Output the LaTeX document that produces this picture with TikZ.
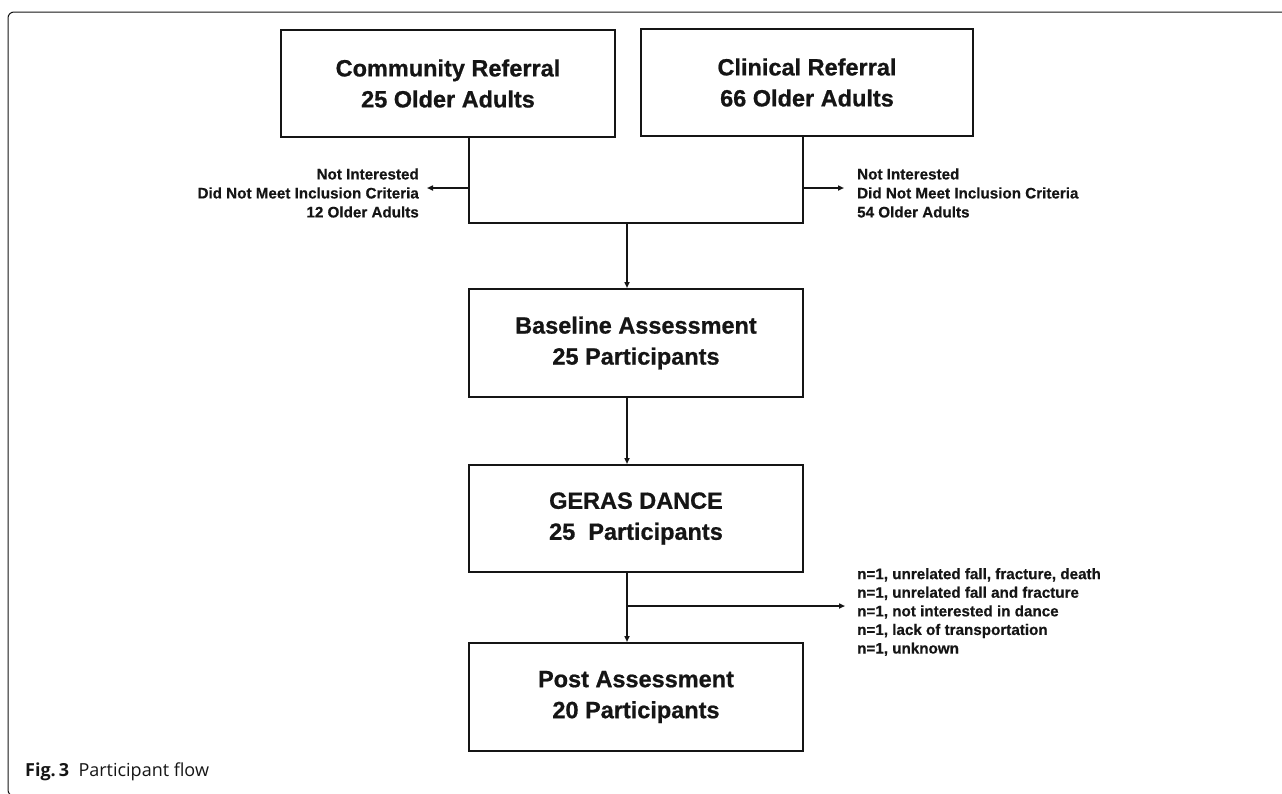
\documentclass[tikz,border=0pt]{standalone}
\usepackage{fontspec}
\setmainfont{Liberation Sans}
\newfontfamily\boxfont{Liberation Sans Bold}[FakeBold=0.8]
\newfontfamily\smallfont{Liberation Sans Bold}[FakeBold=0.5]
\newfontfamily\capfont{Open Sans}
\usetikzlibrary{arrows.meta}
\definecolor{ink}{HTML}{151515}
\tikzset{
  flowbox/.style={draw=ink, line width=2pt, minimum width=334pt, minimum height=107pt,
    inner sep=0pt, align=center, font=\boxfont\fontsize{23.5}{31}\selectfont, text=ink},
  conn/.style={draw=ink, line width=1.6pt},
  arr/.style={conn, -{Triangle[length=6pt,width=5pt]}},
  sidetext/.style={inner sep=0pt, font=\smallfont\fontsize{15.2}{19}\selectfont, text=ink},
  listtext/.style={inner sep=0pt, align=left, font=\smallfont\fontsize{15.2}{18.6}\selectfont, text=ink},
  frame/.style={draw=ink, line width=1pt, rounded corners=6pt}
}
\begin{document}
\begin{tikzpicture}[x=1pt, y=-1pt]
\useasboundingbox (0,0) rectangle (1282,793);
\begin{scope}
\clip (0,0) rectangle (1282,793);
\draw[frame] (1290,12) -- (8,12) -- (8,796) -- (40,796);
\end{scope}

\node[flowbox] (comm) at (448,83.5) {Community Referral\\25 Older Adults};
\node[flowbox, minimum width=332pt] (clin) at (807,82.5) {Clinical Referral\\66 Older Adults};
\node[flowbox, minimum height=108pt] (base) at (636,343) {Baseline Assessment\\25 Participants};
\node[flowbox] (geras) at (636,518.5) {GERAS DANCE\\25\ \ Participants};
\node[flowbox, minimum height=108pt] (post) at (636,697) {Post Assessment\\20 Participants};

\coordinate (jl) at (469,223);
\coordinate (jr) at (803,223);
\coordinate (jm) at (627,223);
\coordinate (ls) at (469,188);
\coordinate (le) at (427,188);
\coordinate (rs) at (803,188);
\coordinate (re) at (844,188);
\coordinate (bj) at (627,606);
\coordinate (be) at (845,606);

\draw[conn] (comm.south -| jl) -- (jl) -- (jr) -- (clin.south -| jr);
\draw[arr] (jm) -- (base.north -| jm);
\draw[arr] (ls) -- (le);
\draw[arr] (rs) -- (re);
\draw[arr] (base.south -| jm) -- (geras.north -| jm);
\draw[arr] (geras.south -| jm) -- (post.north -| jm);
\draw[arr] (bj) -- (be);

\node[sidetext, align=right, anchor=east] (lt) at (419,193) {Not Interested\\Did Not Meet Inclusion Criteria\\12 Older Adults};
\node[sidetext, align=left, anchor=west] (rt) at (857,193) {Not Interested\\Did Not Meet Inclusion Criteria\\54 Older Adults};
\node[listtext, anchor=west] (lst) at (857,612) {n=1, unrelated fall, fracture, death\\n=1, unrelated fall and fracture\\n=1, not interested in dance\\n=1, lack of transportation\\n=1, unknown};

\node[anchor=west, inner sep=0pt, font=\capfont\fontsize{18}{22}\selectfont, text=ink] (cap) at (25,772) {\textbf{Fig.\,3}\ \ Participant flow};
\end{tikzpicture}
\end{document}
